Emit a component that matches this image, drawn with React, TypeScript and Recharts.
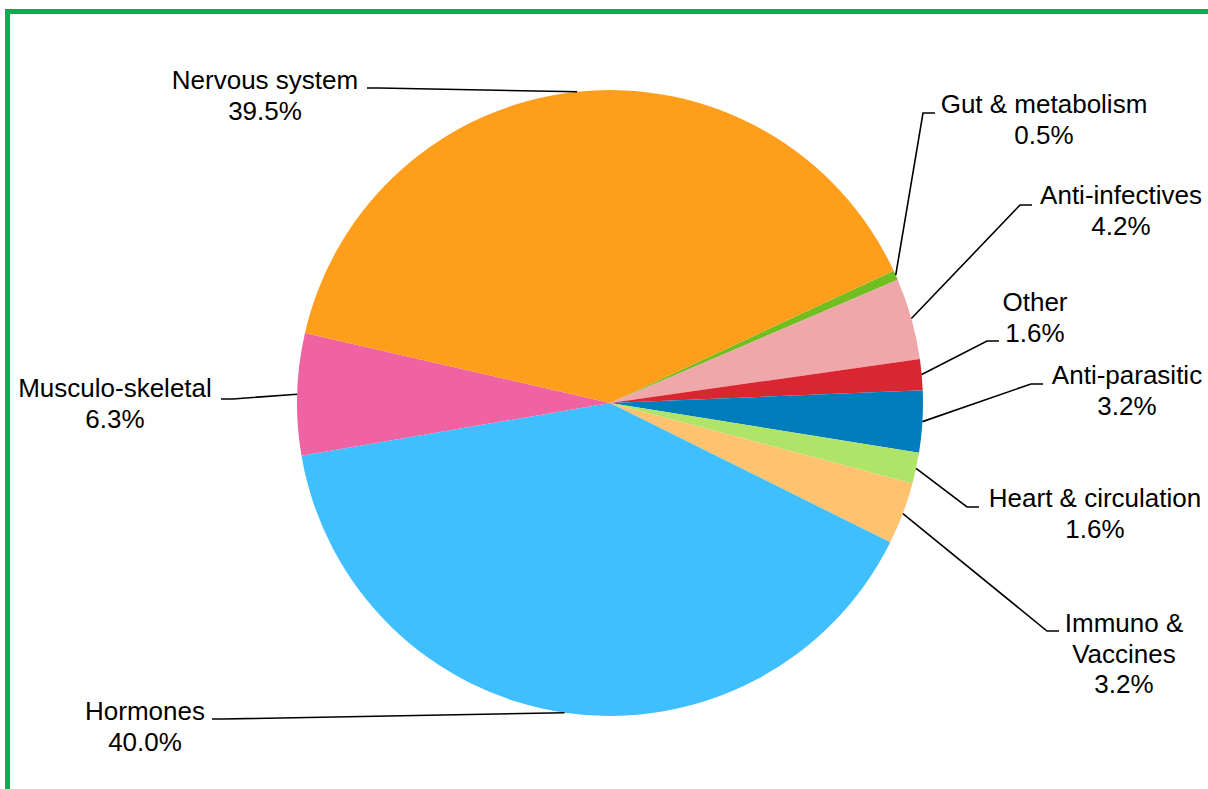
import React from 'react';
import { PieChart, Pie, Cell } from 'recharts';

// ---- data ----
const categories = [
  'Gut & metabolism',
  'Anti-infectives',
  'Other',
  'Anti-parasitic',
  'Heart & circulation',
  'Immuno & Vaccines',
  'Hormones',
  'Musculo-skeletal',
  'Nervous system',
];
const shares = [0.5, 4.2, 1.6, 3.2, 1.6, 3.2, 40.0, 6.3, 39.5];
const labelNames = [
  ['Gut & metabolism'],
  ['Anti-infectives'],
  ['Other'],
  ['Anti-parasitic'],
  ['Heart & circulation'],
  ['Immuno &', 'Vaccines'],
  ['Hormones'],
  ['Musculo-skeletal'],
  ['Nervous system'],
];

// ---- styling / layout ----
const sliceColors = [
  '#70BE1F',
  '#EFA7A9',
  '#DA2630',
  '#007DBA',
  '#B0E468',
  '#FFC370',
  '#40BFFF',
  '#F063A2',
  '#FF9E1A',
];
// text block position (centre x, first baseline y) relative to the pie centre
const labelTextOffset = [
  [434, -290],
  [511, -199],
  [425, -92],
  [517, -19],
  [485, 104],
  [514, 229],
  [-465, 317],
  [-495, -6],
  [-345, -314],
];
// leader line end near the label, relative to the pie centre
const labelAnchorOffset = [
  [325, -290],
  [422, -198],
  [389, -62],
  [433, -19],
  [369, 104],
  [449, 228],
  [-398, 316],
  [-389, -4],
  [-243, -315],
];

const FONT = '"Liberation Sans", Arial, Helvetica, sans-serif';
const W = 1208;
const H = 789;

const chartData = categories.map((name, i) => ({ name, value: shares[i] }));

const RAD = Math.PI / 180;

const renderLabel = (props: any) => {
  const { cx, cy, midAngle, outerRadius, index, value } = props;
  const ex = cx + outerRadius * Math.cos(-midAngle * RAD);
  const ey = cy + outerRadius * Math.sin(-midAngle * RAD);
  const [ax, ay] = labelAnchorOffset[index];
  const lx = cx + ax;
  const ly = cy + ay;
  const side = ax < 0 ? 1 : -1;
  const tx = lx + side * 12;
  const [tdx, tdy] = labelTextOffset[index];
  const lines = [...labelNames[index], `${Number(value).toFixed(1)}%`];
  return (
    <g key={`lbl-${index}`}>
      <polyline
        points={`${ex},${ey} ${tx},${ly} ${lx},${ly}`}
        fill="none"
        stroke="#000"
        strokeWidth={1.6}
      />
      <text
        x={cx + tdx}
        y={cy + tdy}
        textAnchor="middle"
        fontSize={26}
        fill="#000"
        fontFamily={FONT}
      >
        {lines.map((l, i) => (
          <tspan key={i} x={cx + tdx} dy={i === 0 ? 0 : 30.5}>
            {l}
          </tspan>
        ))}
      </text>
    </g>
  );
};

export default function App() {
  return (
    <div
      style={{
        position: 'absolute',
        left: 0,
        top: 0,
        width: W,
        height: H,
        overflow: 'hidden',
        background: '#fff',
        fontFamily: FONT,
      }}
    >
      <div
        style={{
          position: 'absolute',
          left: 5,
          top: 9,
          width: W + 40,
          height: H + 40,
          border: '5px solid #00B050',
          boxSizing: 'border-box',
        }}
      />
      <div style={{ position: 'absolute', left: 0, top: 0 }}>
        <PieChart width={W} height={H} margin={{ top: 0, right: 0, bottom: 0, left: 0 }}>
          <Pie
            data={chartData}
            dataKey="value"
            nameKey="name"
            cx={610}
            cy={403}
            outerRadius={313}
            startAngle={25}
            endAngle={-335}
            stroke="none"
            label={renderLabel}
            labelLine={false}
            isAnimationActive={false}
          >
            {chartData.map((d, i) => (
              <Cell key={d.name} fill={sliceColors[i]} stroke="none" />
            ))}
          </Pie>
        </PieChart>
      </div>
    </div>
  );
}
